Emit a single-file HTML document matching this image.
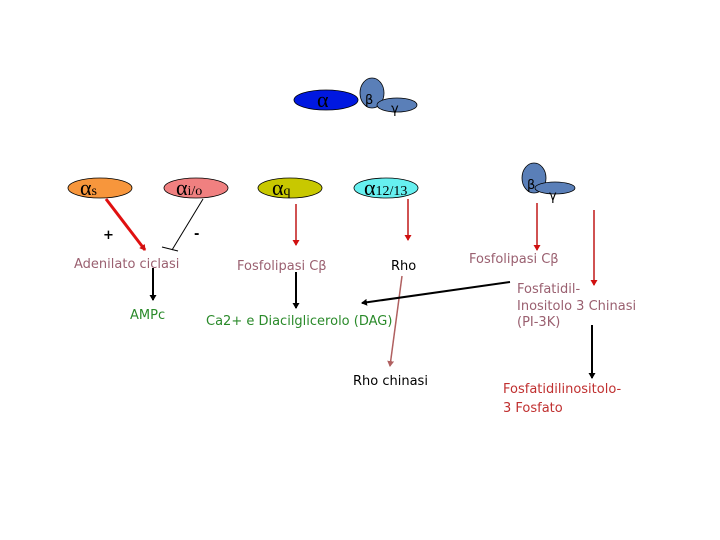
<!DOCTYPE html>
<html><head><meta charset="utf-8"><style>
html,body{margin:0;padding:0;background:#fff;}
svg{display:block;}
text{font-family:"DejaVu Sans","Liberation Sans",sans-serif;font-size:13px;}
.g{font-family:"Liberation Serif",serif;font-size:22px;}
</style></head><body>
<svg width="720" height="540" viewBox="0 0 720 540" xmlns="http://www.w3.org/2000/svg">
<defs>
<marker id="ar" markerWidth="7" markerHeight="7" refX="5" refY="3.5" orient="auto" markerUnits="userSpaceOnUse"><path d="M0,0 L6,3.5 L0,7 z" fill="#d01010"/></marker>
<marker id="ab" markerWidth="7" markerHeight="7" refX="5" refY="3.5" orient="auto" markerUnits="userSpaceOnUse"><path d="M0,0 L6,3.5 L0,7 z" fill="#000"/></marker>
<marker id="abr" markerWidth="7" markerHeight="7" refX="5" refY="3.5" orient="auto" markerUnits="userSpaceOnUse"><path d="M0,0 L6,3.5 L0,7 z" fill="#b06060"/></marker>
</defs>
<ellipse cx="326" cy="100" rx="32" ry="10" fill="#0018e0" stroke="#000" stroke-width="0.8"/>
<text x="317" y="107" class="g" fill="#000">α</text>
<ellipse cx="372" cy="93" rx="12" ry="15" fill="#5a7fb8" stroke="#000" stroke-width="0.8"/>
<text x="365" y="104" fill="#000" font-size="16">β</text>
<ellipse cx="397" cy="105" rx="20" ry="7" fill="#5a7fb8" stroke="#000" stroke-width="0.8"/>
<text x="391" y="113" fill="#000">γ</text>
<ellipse cx="100" cy="188" rx="32" ry="10" fill="#f7963c" stroke="#000" stroke-width="0.8"/>
<text x="80" y="195" class="g">α<tspan font-size="14">s</tspan></text>
<ellipse cx="196" cy="188" rx="32" ry="10" fill="#f08080" stroke="#000" stroke-width="0.8"/>
<text x="176" y="195" class="g">α<tspan font-size="14">i/o</tspan></text>
<ellipse cx="290" cy="188" rx="32" ry="10" fill="#c8c800" stroke="#000" stroke-width="0.8"/>
<text x="272" y="195" class="g">α<tspan font-size="14">q</tspan></text>
<ellipse cx="386" cy="188" rx="32" ry="10" fill="#66f0f0" stroke="#000" stroke-width="0.8"/>
<text x="364" y="195" class="g">α<tspan font-size="14">12/13</tspan></text>
<ellipse cx="534" cy="178" rx="12" ry="15" fill="#5a7fb8" stroke="#000" stroke-width="0.8"/>
<text x="527" y="189" font-size="16">β</text>
<ellipse cx="555" cy="188" rx="20" ry="6" fill="#5a7fb8" stroke="#000" stroke-width="0.8"/>
<text x="549" y="200">γ</text>
<line x1="106" y1="199" x2="145" y2="250" stroke="#e01010" stroke-width="3" marker-end="url(#ar)"/>
<line x1="203" y1="199" x2="172" y2="250" stroke="#000" stroke-width="1"/>
<line x1="162" y1="247" x2="178" y2="251" stroke="#000" stroke-width="1"/>
<text x="103" y="239" font-size="18" font-weight="bold">+</text>
<text x="194" y="238" font-size="18" font-weight="bold">-</text>
<text x="74" y="268" fill="#9a6070">Adenilato ciclasi</text>
<line x1="153" y1="268" x2="153" y2="300" stroke="#000" stroke-width="2" marker-end="url(#ab)"/>
<text x="130" y="319" fill="#2a8a2a">AMPc</text>
<line x1="296" y1="204" x2="296" y2="245" stroke="#c01818" stroke-width="1.5" marker-end="url(#ar)"/>
<text x="237" y="270" fill="#9a6070">Fosfolipasi Cβ</text>
<line x1="296" y1="272" x2="296" y2="308" stroke="#000" stroke-width="2" marker-end="url(#ab)"/>
<text x="206" y="325" fill="#2a8a2a">Ca2+ e Diacilglicerolo (DAG)</text>
<line x1="408" y1="199" x2="408" y2="240" stroke="#c01818" stroke-width="1.5" marker-end="url(#ar)"/>
<text x="391" y="270" fill="#000">Rho</text>
<line x1="402" y1="276" x2="390" y2="366" stroke="#b06060" stroke-width="1.5" marker-end="url(#abr)"/>
<text x="353" y="385" fill="#000">Rho chinasi</text>
<line x1="510" y1="282" x2="362" y2="303" stroke="#000" stroke-width="2" marker-end="url(#ab)"/>
<line x1="537" y1="203" x2="537" y2="250" stroke="#c01818" stroke-width="1.5" marker-end="url(#ar)"/>
<text x="469" y="263" fill="#9a6070">Fosfolipasi Cβ</text>
<line x1="594" y1="210" x2="594" y2="285" stroke="#c01818" stroke-width="1.5" marker-end="url(#ar)"/>
<text x="517" y="293" fill="#9a6070">Fosfatidil-</text>
<text x="517" y="310" fill="#9a6070">Inositolo 3 Chinasi</text>
<text x="517" y="326" fill="#9a6070">(PI-3K)</text>
<line x1="592" y1="325" x2="592" y2="378" stroke="#000" stroke-width="2" marker-end="url(#ab)"/>
<text x="503" y="393" fill="#c03030">Fosfatidilinositolo-</text>
<text x="503" y="412" fill="#c03030">3 Fosfato</text>
</svg>
</body></html>
